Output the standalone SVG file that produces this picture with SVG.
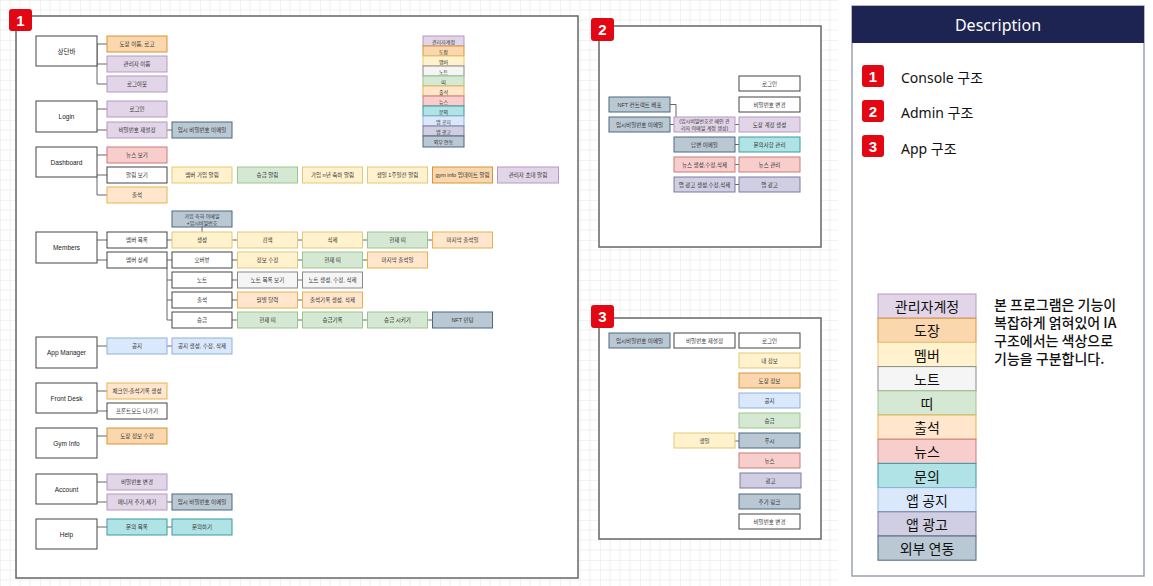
<svg xmlns="http://www.w3.org/2000/svg" width="1153" height="586" viewBox="0 0 1153 586">
<defs>
<pattern id="grid" width="40" height="40" patternUnits="userSpaceOnUse">
<path d="M10,0V40M20,0V40M30,0V40M0,10H40M0,20H40M0,30H40" stroke="#eeeeee" stroke-width="0.8" fill="none"/>
<path d="M0,0V40M0,0H40" stroke="#dedede" stroke-width="0.8" fill="none"/>
</pattern>
<style>
.panel{fill:#fff;stroke:#666;stroke-width:1.5}
.badge{fill:#e30613}
.bnum{font-family:"Liberation Sans",Arial,sans-serif;font-weight:bold;font-size:15px;fill:#fff;text-anchor:middle;dominant-baseline:central}
.n rect{stroke-width:1}
.t{font-family:"Liberation Sans","Noto Sans CJK KR",sans-serif;font-size:5.5px;fill:#333;text-anchor:middle;dominant-baseline:central}
.t2{font-family:"Liberation Sans","Noto Sans CJK KR",sans-serif;font-size:5px;fill:#333;text-anchor:middle;dominant-baseline:central}
.tm{font-family:"Liberation Sans","Noto Sans CJK KR",sans-serif;font-size:6.5px;fill:#222;text-anchor:middle;dominant-baseline:central}
.white{fill:#fff;stroke:#444}
.admin{fill:#e1d5e7;stroke:#b49ac4}
.dojang{fill:#fad7ac;stroke:#d9923a}
.member{fill:#fff2cc;stroke:#e3c77a}
.note{fill:#f5f5f5;stroke:#8a8a8a}
.belt{fill:#d5e8d4;stroke:#9cc58e}
.attend{fill:#ffe6cc;stroke:#e6b34d}
.news{fill:#f8cecc;stroke:#cc7b78}
.inquiry{fill:#b0e3e6;stroke:#3a9aa0}
.notice{fill:#dae8fc;stroke:#93afd6}
.ad{fill:#d0cee2;stroke:#7f7aa3}
.ext{fill:#bac8d3;stroke:#4d6880}
.conn{fill:none;stroke:#666;stroke-width:1}
.lg{font-family:"Noto Sans CJK KR","Noto Sans",sans-serif;font-size:14px;fill:#111;text-anchor:middle;dominant-baseline:central}
.lgs{font-family:"Noto Sans CJK KR","Noto Sans",sans-serif;font-size:5px;fill:#333;text-anchor:middle;dominant-baseline:central}
.desc{font-family:"Noto Sans","Noto Sans CJK KR",sans-serif;font-size:14px;fill:#111}
</style>
</defs>
<rect width="1153" height="586" fill="#fff"/>
<rect x="0" y="0" width="838" height="586" fill="url(#grid)"/>

<!-- Panels -->
<g id="panel1">
<rect class="panel" x="16" y="16" width="562" height="562"/>
<rect class="badge" x="9" y="9" width="23" height="22" rx="3"/>
<text class="bnum" x="20.5" y="20.5">1</text>
</g>
<g id="panel2">
<rect class="panel" x="599" y="26" width="222" height="221"/>
<rect class="badge" x="591" y="18" width="23" height="23" rx="3"/>
<text class="bnum" x="602.5" y="29.5">2</text>
</g>
<g id="panel3">
<rect class="panel" x="599" y="318" width="222" height="221"/>
<rect class="badge" x="591" y="305" width="23" height="23" rx="3"/>
<text class="bnum" x="602.5" y="316.5">3</text>
</g>

<!-- Connectors -->
<g id="connectors" class="conn">
<path d="M97,44V84M97,44H107M97,64H107M97,84H107"/>
<path d="M97,109H107M97,130H107M167,130H172"/>
<path d="M97,155H107M97,175H107M97,177V195H107"/>
<path d="M97,240H107M97,260H107"/>
<path d="M167,240H172M232,240H237.5M297.5,240H302.5M362.5,240H367.5M427.5,240H432.5"/>
<path d="M202,227V232"/>
<path d="M167,260H172M167,268V320M167,280H172M167,300H172M167,320H172"/>
<path d="M232,260H237.5M297.5,260H302.5M362.5,260H367.5"/>
<path d="M232,280H237.5M297.5,280H302.5"/>
<path d="M232,300H237.5M297.5,300H302.5"/>
<path d="M232,320H237.5M297.5,320H302.5M362.5,320H367.5M427.5,320H432.5"/>
<path d="M97,346H107M167,346H172"/>
<path d="M97,391H107M97,411H107"/>
<path d="M97,436H107"/>
<path d="M97,482H107M97,502H107M167,502H172"/>
<path d="M97,527H107M167,527H172"/>
<path d="M670,104.5H676V117M670,124.5H674M735,124.5H739M735,144.5H739M735,164.5H739M735,184.5H739"/>
<path d="M735,441H739"/>
</g>

<!-- Panel 1 main nodes -->
<g id="n-sangdanbar" class="n"><rect class="white" x="36" y="36" width="61" height="30"/><text class="tm" x="66.5" y="51">상단바</text></g>
<g id="n-login" class="n"><rect class="white" x="36" y="101" width="61" height="31"/><text class="tm" x="66.5" y="116.5">Login</text></g>
<g id="n-dashboard" class="n"><rect class="white" x="36" y="147" width="61" height="30"/><text class="tm" x="66.5" y="162">Dashboard</text></g>
<g id="n-members" class="n"><rect class="white" x="36" y="232" width="61" height="31"/><text class="tm" x="66.5" y="247.5">Members</text></g>
<g id="n-appmanager" class="n"><rect class="white" x="36" y="337" width="61" height="31"/><text class="tm" x="66.5" y="352.5">App Manager</text></g>
<g id="n-frontdesk" class="n"><rect class="white" x="36" y="383" width="61" height="30"/><text class="tm" x="66.5" y="398">Front Desk</text></g>
<g id="n-gyminfo" class="n"><rect class="white" x="36" y="428" width="61" height="30"/><text class="tm" x="66.5" y="443">Gym Info</text></g>
<g id="n-account" class="n"><rect class="white" x="36" y="474" width="61" height="30"/><text class="tm" x="66.5" y="489">Account</text></g>
<g id="n-help" class="n"><rect class="white" x="36" y="519" width="61" height="30"/><text class="tm" x="66.5" y="534">Help</text></g>

<!-- Panel 1 column 1 -->
<g id="n-c1-1" class="n"><rect class="dojang" x="107" y="36" width="60" height="16"/><text class="t" x="137" y="44">도장 이름, 로고</text></g>
<g id="n-c1-2" class="n"><rect class="admin" x="107" y="56" width="60" height="16"/><text class="t" x="137" y="64">관리자 이름</text></g>
<g id="n-c1-3" class="n"><rect class="admin" x="107" y="76" width="60" height="16"/><text class="t" x="137" y="84">로그아웃</text></g>
<g id="n-c1-4" class="n"><rect class="admin" x="107" y="101" width="60" height="16"/><text class="t" x="137" y="109">로그인</text></g>
<g id="n-c1-5" class="n"><rect class="admin" x="107" y="122" width="60" height="16"/><text class="t" x="137" y="130">비밀번호 재설정</text></g>
<g id="n-c1-6" class="n"><rect class="news" x="107" y="147" width="60" height="16"/><text class="t" x="137" y="155">뉴스 보기</text></g>
<g id="n-c1-7" class="n"><rect class="white" x="107" y="167" width="60" height="16"/><text class="t" x="137" y="175">알림 보기</text></g>
<g id="n-c1-8" class="n"><rect class="attend" x="107" y="187" width="60" height="16"/><text class="t" x="137" y="195">출석</text></g>
<g id="n-c1-9" class="n"><rect class="white" x="107" y="232" width="60" height="16"/><text class="t" x="137" y="240">멤버 목록</text></g>
<g id="n-c1-10" class="n"><rect class="white" x="107" y="252" width="60" height="16"/><text class="t" x="137" y="260">멤버 상세</text></g>
<g id="n-c1-11" class="n"><rect class="notice" x="107" y="338" width="60" height="16"/><text class="t" x="137" y="346">공지</text></g>
<g id="n-c1-12" class="n"><rect class="attend" x="107" y="383" width="60" height="16"/><text class="t" x="137" y="391">체크인-출석기록 생성</text></g>
<g id="n-c1-13" class="n"><rect class="white" x="107" y="403" width="60" height="16"/><text class="t" x="137" y="411">프론트모드 나가기</text></g>
<g id="n-c1-14" class="n"><rect class="dojang" x="107" y="428" width="60" height="16"/><text class="t" x="137" y="436">도장 정보 수정</text></g>
<g id="n-c1-15" class="n"><rect class="admin" x="107" y="474" width="60" height="16"/><text class="t" x="137" y="482">비밀번호 변경</text></g>
<g id="n-c1-16" class="n"><rect class="admin" x="107" y="494" width="60" height="16"/><text class="t" x="137" y="502">매니저 추가,제거</text></g>
<g id="n-c1-17" class="n"><rect class="inquiry" x="107" y="519" width="60" height="16"/><text class="t" x="137" y="527">문의 목록</text></g>

<!-- Panel 1 column 2 -->
<g id="n-c2-1" class="n"><rect class="ext" x="172" y="122" width="60" height="16"/><text class="t" x="202" y="130">임시 비밀번호 이메일</text></g>
<g id="n-c2-2" class="n"><rect class="member" x="172" y="167" width="60" height="16"/><text class="t" x="202" y="175">멤버 가입 알림</text></g>
<g id="n-c2-3" class="n"><rect class="ext" x="172" y="211" width="60" height="16"/><text class="t2" x="202" y="216">가입 축하 이메일</text><text class="t2" x="202" y="222.5">+임시비밀번호</text></g>
<g id="n-c2-4" class="n"><rect class="member" x="172" y="232" width="60" height="16"/><text class="t" x="202" y="240">생성</text></g>
<g id="n-c2-5" class="n"><rect class="white" x="172" y="252" width="60" height="16"/><text class="t" x="202" y="260">오버뷰</text></g>
<g id="n-c2-6" class="n"><rect class="white" x="172" y="272" width="60" height="16"/><text class="t" x="202" y="280">노트</text></g>
<g id="n-c2-7" class="n"><rect class="white" x="172" y="292" width="60" height="16"/><text class="t" x="202" y="300">출석</text></g>
<g id="n-c2-8" class="n"><rect class="white" x="172" y="312" width="60" height="16"/><text class="t" x="202" y="320">승급</text></g>
<g id="n-c2-9" class="n"><rect class="notice" x="172" y="338" width="60" height="16"/><text class="t" x="202" y="346">공지 생성, 수정, 삭제</text></g>
<g id="n-c2-10" class="n"><rect class="ext" x="172" y="494" width="60" height="16"/><text class="t" x="202" y="502">임시 비밀번호 이메일</text></g>
<g id="n-c2-11" class="n"><rect class="inquiry" x="172" y="519" width="60" height="16"/><text class="t" x="202" y="527">문의하기</text></g>

<!-- Panel 1 column 3 -->
<g id="n-c3-1" class="n"><rect class="belt" x="237.5" y="167" width="60" height="16"/><text class="t" x="267.5" y="175">승급 알림</text></g>
<g id="n-c3-2" class="n"><rect class="member" x="237.5" y="232" width="60" height="16"/><text class="t" x="267.5" y="240">검색</text></g>
<g id="n-c3-3" class="n"><rect class="member" x="237.5" y="252" width="60" height="16"/><text class="t" x="267.5" y="260">정보 수정</text></g>
<g id="n-c3-4" class="n"><rect class="note" x="237.5" y="272" width="60" height="16"/><text class="t" x="267.5" y="280">노트 목록 보기</text></g>
<g id="n-c3-5" class="n"><rect class="attend" x="237.5" y="292" width="60" height="16"/><text class="t" x="267.5" y="300">월별 달력</text></g>
<g id="n-c3-6" class="n"><rect class="belt" x="237.5" y="312" width="60" height="16"/><text class="t" x="267.5" y="320">현재 띠</text></g>

<!-- Panel 1 column 4 -->
<g id="n-c4-1" class="n"><rect class="member" x="302.5" y="167" width="60" height="16"/><text class="t" x="332.5" y="175">가입 n년 축하 알림</text></g>
<g id="n-c4-2" class="n"><rect class="member" x="302.5" y="232" width="60" height="16"/><text class="t" x="332.5" y="240">삭제</text></g>
<g id="n-c4-3" class="n"><rect class="belt" x="302.5" y="252" width="60" height="16"/><text class="t" x="332.5" y="260">현재 띠</text></g>
<g id="n-c4-4" class="n"><rect class="note" x="302.5" y="272" width="60" height="16"/><text class="t" x="332.5" y="280">노트 생성, 수정, 삭제</text></g>
<g id="n-c4-5" class="n"><rect class="attend" x="302.5" y="292" width="60" height="16"/><text class="t" x="332.5" y="300">출석기록 생성, 삭제</text></g>
<g id="n-c4-6" class="n"><rect class="belt" x="302.5" y="312" width="60" height="16"/><text class="t" x="332.5" y="320">승급기록</text></g>

<!-- Panel 1 column 5 -->
<g id="n-c5-1" class="n"><rect class="member" x="367.5" y="167" width="60" height="16"/><text class="t" x="397.5" y="175">생일 1주일전 알림</text></g>
<g id="n-c5-2" class="n"><rect class="belt" x="367.5" y="232" width="60" height="16"/><text class="t" x="397.5" y="240">현재 띠</text></g>
<g id="n-c5-3" class="n"><rect class="attend" x="367.5" y="252" width="60" height="16"/><text class="t" x="397.5" y="260">마지막 출석일</text></g>
<g id="n-c5-4" class="n"><rect class="belt" x="367.5" y="312" width="60" height="16"/><text class="t" x="397.5" y="320">승급 시키기</text></g>

<!-- Panel 1 column 6/7 -->
<g id="n-c6-1" class="n"><rect class="dojang" x="432.5" y="167" width="60" height="16"/><text class="t" x="462.5" y="175">gym info 업데이트 알림</text></g>
<g id="n-c6-2" class="n"><rect class="attend" x="432.5" y="232" width="60" height="16"/><text class="t" x="462.5" y="240">마지막 출석일</text></g>
<g id="n-c6-3" class="n"><rect class="ext" x="432.5" y="312" width="60" height="16"/><text class="t" x="462.5" y="320">NFT 민팅</text></g>
<g id="n-c7-1" class="n"><rect class="admin" x="497.5" y="167" width="61" height="16"/><text class="t" x="528" y="175">관리자 초대 알림</text></g>

<!-- Panel 1 small legend -->
<g id="legend-small">
<rect class="admin" x="423" y="36" width="41" height="10"/><text class="lgs" x="443.5" y="41">관리자계정</text>
<rect class="dojang" x="423" y="46" width="41" height="10"/><text class="lgs" x="443.5" y="51">도장</text>
<rect class="member" x="423" y="56" width="41" height="10"/><text class="lgs" x="443.5" y="61">멤버</text>
<rect class="note" x="423" y="66" width="41" height="10"/><text class="lgs" x="443.5" y="71">노트</text>
<rect class="belt" x="423" y="76" width="41" height="10"/><text class="lgs" x="443.5" y="81">띠</text>
<rect class="attend" x="423" y="86" width="41" height="10"/><text class="lgs" x="443.5" y="91">출석</text>
<rect class="news" x="423" y="96" width="41" height="10"/><text class="lgs" x="443.5" y="101">뉴스</text>
<rect class="inquiry" x="423" y="106" width="41" height="10"/><text class="lgs" x="443.5" y="111">문의</text>
<rect class="notice" x="423" y="116" width="41" height="10"/><text class="lgs" x="443.5" y="121">앱 공지</text>
<rect class="ad" x="423" y="126" width="41" height="10"/><text class="lgs" x="443.5" y="131">앱 광고</text>
<rect class="ext" x="423" y="136" width="41" height="11"/><text class="lgs" x="443.5" y="141.5">외부 연동</text>
</g>

<!-- Panel 2 nodes -->
<g id="n-p2-nft" class="n"><rect class="ext" x="609" y="97" width="61" height="15"/><text class="t" x="639.5" y="104.5">NFT 컨트랙트 배포</text></g>
<g id="n-p2-tmpmail" class="n"><rect class="ext" x="609" y="117" width="61" height="15"/><text class="t" x="639.5" y="124.5">임시비밀번호 이메일</text></g>
<g id="n-p2-create" class="n"><rect class="admin" x="674" y="117" width="61" height="15"/><text class="t2" x="704.5" y="121.3">(임시비밀번호로 메인 관</text><text class="t2" x="704.5" y="127.8">리자 이메일 계정 생성)</text></g>
<g id="n-p2-reply" class="n"><rect class="ext" x="674" y="137" width="61" height="15"/><text class="t" x="704.5" y="144.5">답변 이메일</text></g>
<g id="n-p2-newsedit" class="n"><rect class="news" x="674" y="157" width="61" height="15"/><text class="t" x="704.5" y="164.5">뉴스 생성,수정,삭제</text></g>
<g id="n-p2-adedit" class="n"><rect class="ad" x="674" y="177" width="61" height="15"/><text class="t" x="704.5" y="184.5">앱 광고 생성,수정,삭제</text></g>
<g id="n-p2-login" class="n"><rect class="white" x="739" y="76" width="61" height="15"/><text class="t" x="769.5" y="83.5">로그인</text></g>
<g id="n-p2-pw" class="n"><rect class="white" x="739" y="97" width="61" height="15"/><text class="t" x="769.5" y="104.5">비밀번호 변경</text></g>
<g id="n-p2-dojang" class="n"><rect class="admin" x="739" y="117" width="61" height="15"/><text class="t" x="769.5" y="124.5">도장 계정 생성</text></g>
<g id="n-p2-inq" class="n"><rect class="inquiry" x="739" y="137" width="61" height="15"/><text class="t" x="769.5" y="144.5">문의사항 관리</text></g>
<g id="n-p2-news" class="n"><rect class="news" x="739" y="157" width="61" height="15"/><text class="t" x="769.5" y="164.5">뉴스 관리</text></g>
<g id="n-p2-ad" class="n"><rect class="ad" x="739" y="177" width="61" height="15"/><text class="t" x="769.5" y="184.5">앱 광고</text></g>

<!-- Panel 3 nodes -->
<g id="n-p3-tmpmail" class="n"><rect class="ext" x="609" y="333" width="61" height="15"/><text class="t" x="639.5" y="340.5">임시비밀번호 이메일</text></g>
<g id="n-p3-reset" class="n"><rect class="white" x="674" y="333" width="61" height="15"/><text class="t" x="704.5" y="340.5">비밀번호 재설정</text></g>
<g id="n-p3-login" class="n"><rect class="white" x="739" y="333" width="61" height="15"/><text class="t" x="769.5" y="340.5">로그인</text></g>
<g id="n-p3-my" class="n"><rect class="member" x="739" y="353" width="61" height="15"/><text class="t" x="769.5" y="360.5">내 정보</text></g>
<g id="n-p3-dojang" class="n"><rect class="dojang" x="739" y="373" width="61" height="15"/><text class="t" x="769.5" y="380.5">도장 정보</text></g>
<g id="n-p3-notice" class="n"><rect class="notice" x="739" y="393" width="61" height="15"/><text class="t" x="769.5" y="400.5">공지</text></g>
<g id="n-p3-belt" class="n"><rect class="belt" x="739" y="413" width="61" height="15"/><text class="t" x="769.5" y="420.5">승급</text></g>
<g id="n-p3-push" class="n"><rect class="ext" x="739" y="433" width="61" height="15"/><text class="t" x="769.5" y="440.5">푸시</text></g>
<g id="n-p3-bday" class="n"><rect class="member" x="674" y="433" width="61" height="15"/><text class="t" x="704.5" y="440.5">생일</text></g>
<g id="n-p3-news" class="n"><rect class="news" x="739" y="453" width="61" height="15"/><text class="t" x="769.5" y="460.5">뉴스</text></g>
<g id="n-p3-ad" class="n"><rect class="ad" x="740" y="473" width="61" height="15"/><text class="t" x="770.5" y="480.5">광고</text></g>
<g id="n-p3-link" class="n"><rect class="ext" x="739" y="494" width="61" height="15"/><text class="t" x="769.5" y="501.5">추가 링크</text></g>
<g id="n-p3-pw" class="n"><rect class="white" x="739" y="514" width="61" height="15"/><text class="t" x="769.5" y="521.5">비밀번호 변경</text></g>

<!-- Description panel -->
<g id="description">
<rect x="852" y="6" width="292" height="570" fill="#fff" stroke="#9aa0b4" stroke-width="1.5"/>
<rect x="852" y="6" width="292" height="37" fill="#1e2452"/>
<text x="998" y="25" font-family="'Noto Sans','Open Sans',sans-serif" font-size="16" fill="#fff" text-anchor="middle" dominant-baseline="central">Description</text>
<rect class="badge" x="862" y="65" width="22" height="22" rx="3"/><text class="bnum" x="873" y="76" font-size="14">1</text>
<text class="desc" x="901" y="77" dominant-baseline="central">Console 구조</text>
<rect class="badge" x="862" y="100" width="22" height="22" rx="3"/><text class="bnum" x="873" y="111" font-size="14">2</text>
<text class="desc" x="901" y="112" dominant-baseline="central">Admin 구조</text>
<rect class="badge" x="862" y="135" width="22" height="22" rx="3"/><text class="bnum" x="873" y="146" font-size="14">3</text>
<text class="desc" x="901" y="148" dominant-baseline="central">App 구조</text>
</g>

<g id="legend-big">
<rect class="admin" x="878" y="294" width="98" height="24.2"/><text class="lg" x="927" y="306.1">관리자계정</text>
<rect class="dojang" x="878" y="318.2" width="98" height="24.2"/><text class="lg" x="927" y="330.3">도장</text>
<rect class="member" x="878" y="342.4" width="98" height="24.2"/><text class="lg" x="927" y="354.5">멤버</text>
<rect class="note" x="878" y="366.6" width="98" height="24.2"/><text class="lg" x="927" y="378.7">노트</text>
<rect class="belt" x="878" y="390.8" width="98" height="24.2"/><text class="lg" x="927" y="402.9">띠</text>
<rect class="attend" x="878" y="415" width="98" height="24.2"/><text class="lg" x="927" y="427.1">출석</text>
<rect class="news" x="878" y="439.2" width="98" height="24.2"/><text class="lg" x="927" y="451.3">뉴스</text>
<rect class="inquiry" x="878" y="463.4" width="98" height="24.2"/><text class="lg" x="927" y="475.5">문의</text>
<rect class="notice" x="878" y="487.6" width="98" height="24.2"/><text class="lg" x="927" y="499.7">앱 공지</text>
<rect class="ad" x="878" y="511.8" width="98" height="24.2"/><text class="lg" x="927" y="523.9">앱 광고</text>
<rect class="ext" x="878" y="536" width="98" height="24.2"/><text class="lg" x="927" y="548.1">외부 연동</text>
</g>

<g id="legend-note" font-family="'Noto Sans CJK KR','Noto Sans',sans-serif" font-size="14" font-weight="500" fill="#111">
<text x="994" y="310">본 프로그램은 기능이</text>
<text x="994" y="328">복잡하게 얽혀있어 IA</text>
<text x="994" y="346">구조에서는 색상으로</text>
<text x="994" y="364">기능을 구분합니다.</text>
</g>
</svg>
